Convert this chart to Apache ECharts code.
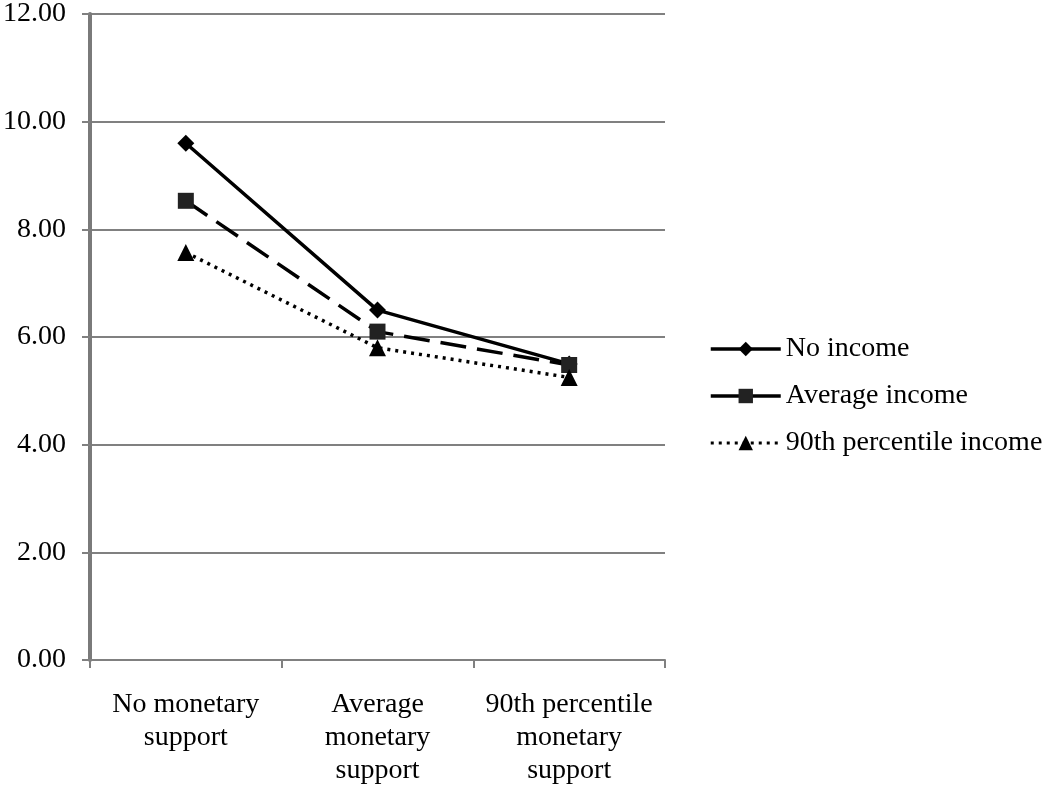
<!DOCTYPE html>
<html><head><meta charset="utf-8">
<script src="https://cdn.jsdelivr.net/npm/echarts@6/dist/echarts.min.js"></script>
<style>html,body{margin:0;padding:0;background:#fff}#c{width:1050px;height:787px}</style>
</head><body><div id="c"></div>
<script>
const categories = ['No monetary\nsupport', 'Average\nmonetary\nsupport', '90th percentile\nmonetary\nsupport'];
const seriesNames = ['No income', 'Average income', '90th percentile income'];
const noIncome = [9.6, 6.5, 5.5];
const avgIncome = [8.53, 6.1, 5.48];
const p90Income = [7.57, 5.8, 5.25];
const yTicks = {min: 0, max: 12, interval: 2};

const font = 'Liberation Serif, Times New Roman, serif';
const chart = echarts.init(document.getElementById('c'));
chart.setOption({
  animation: false,
  backgroundColor: '#fff',
  textStyle: {fontFamily: font, color: '#000'},
  grid: {left: 87, right: 385, top: 10, bottom: 119, containLabel: false},
  legend: {
    orient: 'vertical', left: 704, top: 330,
    itemWidth: 70, itemHeight: 18, itemGap: 19,
    textStyle: {fontFamily: font, fontSize: 28, color: '#000'},
    data: [
      {name: seriesNames[0], lineStyle: {width: 3.5}},
      {name: seriesNames[1], lineStyle: {type: 'solid', width: 3.5}},
      {name: seriesNames[2], lineStyle: {width: 3}}
    ]
  },
  xAxis: {
    type: 'category', data: categories, boundaryGap: true,
    axisLine: {lineStyle: {color: '#808080', width: 2}},
    axisTick: {show: true, length: 8, lineStyle: {color: '#808080', width: 2}},
    axisLabel: {fontFamily: font, fontSize: 28, color: '#000', margin: 28, lineHeight: 33, interval: 0}
  },
  yAxis: {
    type: 'value', min: yTicks.min, max: yTicks.max, interval: yTicks.interval,
    axisLine: {show: true, lineStyle: {color: '#7a7a7a', width: 4}},
    axisTick: {show: true, length: 8, lineStyle: {color: '#808080', width: 2}},
    splitLine: {lineStyle: {color: '#808080', width: 2}},
    axisLabel: {fontFamily: font, fontSize: 28, color: '#000', margin: 24,
      formatter: v => v.toFixed(2)}
  },
  series: [
    {name: seriesNames[0], type: 'line', data: noIncome, symbol: 'diamond', symbolSize: 17,
      lineStyle: {color: '#000', width: 3.5, type: 'solid'}, itemStyle: {color: '#000'}},
    {name: seriesNames[1], type: 'line', data: avgIncome, symbol: 'rect', symbolSize: 16,
      lineStyle: {color: '#000', width: 3.5, type: [26, 11]}, itemStyle: {color: '#222'}},
    {name: seriesNames[2], type: 'line', data: p90Income, symbol: 'triangle', symbolSize: 17,
      lineStyle: {color: '#000', width: 3.5, type: [3, 5]}, itemStyle: {color: '#000'}}
  ]
});
</script></body></html>
